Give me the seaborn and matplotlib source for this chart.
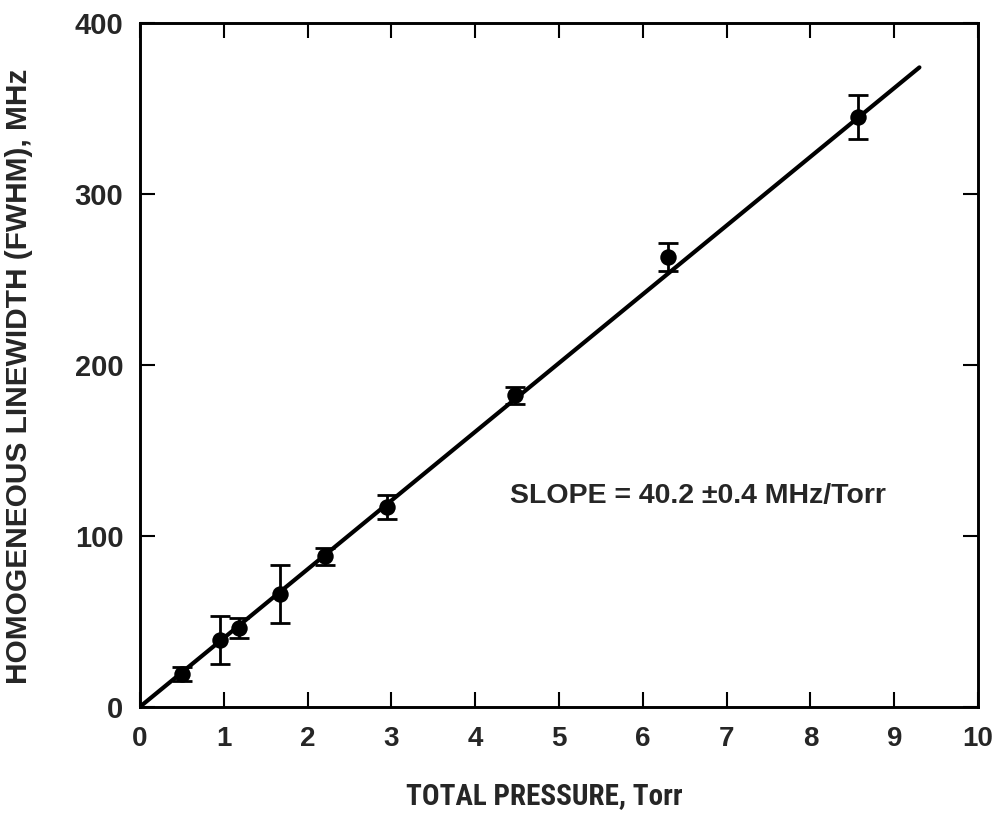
import matplotlib
matplotlib.use("Agg")
import matplotlib.pyplot as plt
from matplotlib import font_manager
import seaborn as sns
import pandas as pd

# Measured linewidths versus total pressure
pressure_torr = [0.50, 0.96, 1.18, 1.67, 2.21, 2.95, 4.47, 6.30, 8.57]
linewidth_mhz = [19, 39, 46, 66, 88, 117, 182, 263, 345]
linewidth_err = [4, 14, 6, 17, 5, 7, 5, 8, 13]

# Linear fit through the origin
slope_mhz_per_torr = 40.2
fit_pressure = [0.0, 9.3]

x_ticks = [0, 1, 2, 3, 4, 5, 6, 7, 8, 9, 10]
y_ticks = [0, 100, 200, 300, 400]

sns.set_theme(style="ticks")
plt.rcParams["font.family"] = ["Liberation Sans", "DejaVu Sans"]

# a narrow face for the x-axis title, if one is installed
installed = {f.name for f in font_manager.fontManager.ttflist}
narrow_family = None
for name in ["Liberation Sans Narrow", "DejaVu Sans Condensed", "Roboto Condensed",
             "Open Sans Condensed"]:
    if name in installed:
        narrow_family = name
        break

points = pd.DataFrame({"pressure": pressure_torr, "width": linewidth_mhz})
fit = pd.DataFrame({
    "pressure": fit_pressure,
    "width": [slope_mhz_per_torr * p for p in fit_pressure],
})

fig = plt.figure(figsize=(9.96, 8.19), dpi=100)
ax = fig.add_axes([0.1406, 0.1371, 0.8414, 0.8352])

sns.lineplot(data=fit, x="pressure", y="width", ax=ax, color="black",
             linewidth=3.0, zorder=2)
ax.errorbar(pressure_torr, linewidth_mhz, yerr=linewidth_err, fmt="none",
            ecolor="black", elinewidth=2.0, capsize=7.5, capthick=2.0, zorder=3)
sns.scatterplot(data=points, x="pressure", y="width", ax=ax, color="black",
                s=140, edgecolor="black", linewidth=0, zorder=4)

ax.set_xlim(0, 10)
ax.set_ylim(0, 400)
ax.set_xticks(x_ticks)
ax.set_yticks(y_ticks)
ax.set_xticklabels([str(t) for t in x_ticks], fontsize=20, fontweight="bold")
ax.set_yticklabels([str(t) for t in y_ticks], fontsize=21, fontweight="bold")

ax.tick_params(direction="in", length=11, width=1.5, top=True, right=True,
               labeltop=False, labelright=False, color="black")
ax.tick_params(axis="x", pad=14)
ax.tick_params(axis="y", pad=12)

for side in ["left", "right", "top", "bottom"]:
    ax.spines[side].set_visible(True)
    ax.spines[side].set_linewidth(2.1)
    ax.spines[side].set_color("black")

ax.set_xlabel("")
ax.set_ylabel("")

if narrow_family is not None:
    fig.text(0.547, 0.011, "TOTAL PRESSURE, Torr", ha="center", va="bottom",
             fontsize=21, fontweight="bold",
             family=[narrow_family, "Liberation Sans", "DejaVu Sans"])
else:
    fig.text(0.547, 0.013, "TOTAL PRESSURE, Torr", ha="center", va="bottom",
             fontsize=17, fontweight="bold")

fig.text(0.019, 0.540, "HOMOGENEOUS LINEWIDTH (FWHM), MHz", rotation=90,
         ha="center", va="center", fontsize=21.5, fontweight="bold")

ax.text(4.41, 123, "SLOPE = 40.2 \u00b10.4 MHz/Torr", ha="left", va="center",
        fontsize=20.5, fontweight="bold")

fig.savefig("out.png", dpi=100, facecolor="white")
